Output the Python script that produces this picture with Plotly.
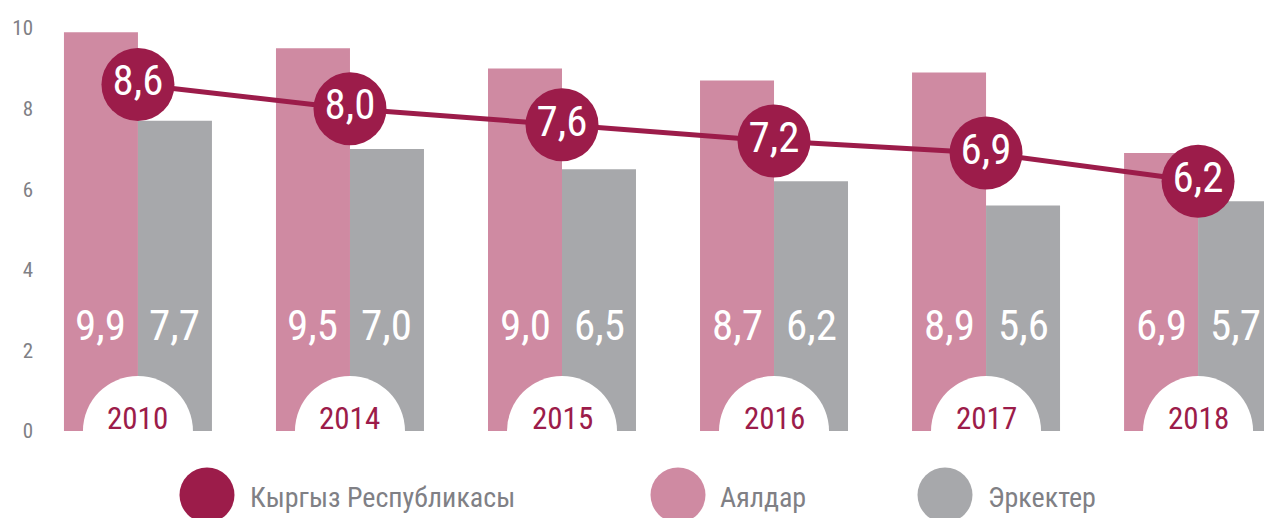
import plotly.graph_objects as go

years = ["2010", "2014", "2015", "2016", "2017", "2018"]
total = [8.6, 8.0, 7.6, 7.2, 6.9, 6.2]
women = [9.9, 9.5, 9.0, 8.7, 8.9, 6.9]
men = [7.7, 7.0, 6.5, 6.2, 5.6, 5.7]
y_ticks = [0, 2, 4, 6, 8, 10]
series_names = ["Кыргыз Республикасы", "Аялдар", "Эркектер"]

FONT = "Roboto Condensed, Liberation Sans Narrow, DejaVu Sans Condensed, Roboto, sans-serif"
C_TOTAL = "#9c1c4a"
C_WOMEN = "#cf8aa2"
C_MEN = "#a7a8ab"
C_TEXT = "#808085"

W, H = 1264, 518
L, R, T, B = 40, 0, 10, 87


def fmt(v):
    return f"{v:.1f}".replace(".", ",")


fig = go.Figure()

fig.add_trace(go.Bar(x=years, y=women, marker_color=C_WOMEN, marker_line_width=0,
                     name=series_names[1], showlegend=False, hoverinfo="skip"))
fig.add_trace(go.Bar(x=years, y=men, marker_color=C_MEN, marker_line_width=0,
                     name=series_names[2], showlegend=False, hoverinfo="skip"))

# white year discs sitting on the baseline (clipped to a half disc)
fig.add_trace(go.Scatter(x=years, y=[0] * len(years), mode="markers",
                         marker=dict(size=110, color="white", line_width=0),
                         cliponaxis=True, showlegend=False, hoverinfo="skip"))

# national total line with value bubbles
fig.add_trace(go.Scatter(x=years, y=total, mode="lines+markers+text",
                         line=dict(color=C_TOTAL, width=5),
                         marker=dict(size=73, color=C_TOTAL, line_width=0),
                         text=[fmt(v) for v in total],
                         textposition="middle center",
                         textfont=dict(family=FONT, size=43, color="white"),
                         cliponaxis=False, name=series_names[0],
                         showlegend=False, hoverinfo="skip"))

annotations = []
for i, (yr, w, m) in enumerate(zip(years, women, men)):
    annotations.append(dict(x=i, y=2.63, xshift=-37, text=fmt(w),
                            showarrow=False, font=dict(family=FONT, size=43, color="white")))
    annotations.append(dict(x=i, y=2.63, xshift=37, text=fmt(m),
                            showarrow=False, font=dict(family=FONT, size=43, color="white")))
    annotations.append(dict(x=i, y=0, yshift=13, text=yr, showarrow=False,
                            font=dict(family=FONT, size=31, color=C_TOTAL)))

# legend drawn by hand with large discs
pw, ph = W - L - R, H - T - B


def px_x(px):
    return (px - L) / pw


def px_y(py):
    return (H - B - py) / ph


legend_items = [(207, 248, series_names[0], C_TOTAL),
                (678, 718, series_names[1], C_WOMEN),
                (945, 986, series_names[2], C_MEN)]
shapes = []
for cx, tx, label, col in legend_items:
    shapes.append(dict(type="circle", xref="paper", yref="paper",
                       xsizemode="pixel", ysizemode="pixel",
                       xanchor=px_x(cx), yanchor=px_y(495),
                       x0=-27.5, x1=27.5, y0=-27.5, y1=27.5,
                       fillcolor=col, line_width=0))
    annotations.append(dict(xref="paper", yref="paper", x=px_x(tx), y=px_y(497),
                            xanchor="left", yanchor="middle", text=label, showarrow=False,
                            font=dict(family=FONT, size=28, color=C_TEXT)))

fig.update_layout(
    width=W, height=H,
    margin=dict(l=L, r=R, t=T, b=B),
    paper_bgcolor="white", plot_bgcolor="white",
    barmode="group", bargap=0.302, bargroupgap=0,
    showlegend=False,
    annotations=annotations, shapes=shapes,
    xaxis=dict(type="category", range=[-0.462, 5.311], showticklabels=False,
               showgrid=False, zeroline=False, showline=False, ticks=""),
    yaxis=dict(range=[0, 10.45], tickvals=y_ticks, showgrid=False, zeroline=False,
               showline=False, ticks="", ticklabelstandoff=6,
               tickfont=dict(family=FONT, size=21, color=C_TEXT)),
)

fig.write_html("out.html")
